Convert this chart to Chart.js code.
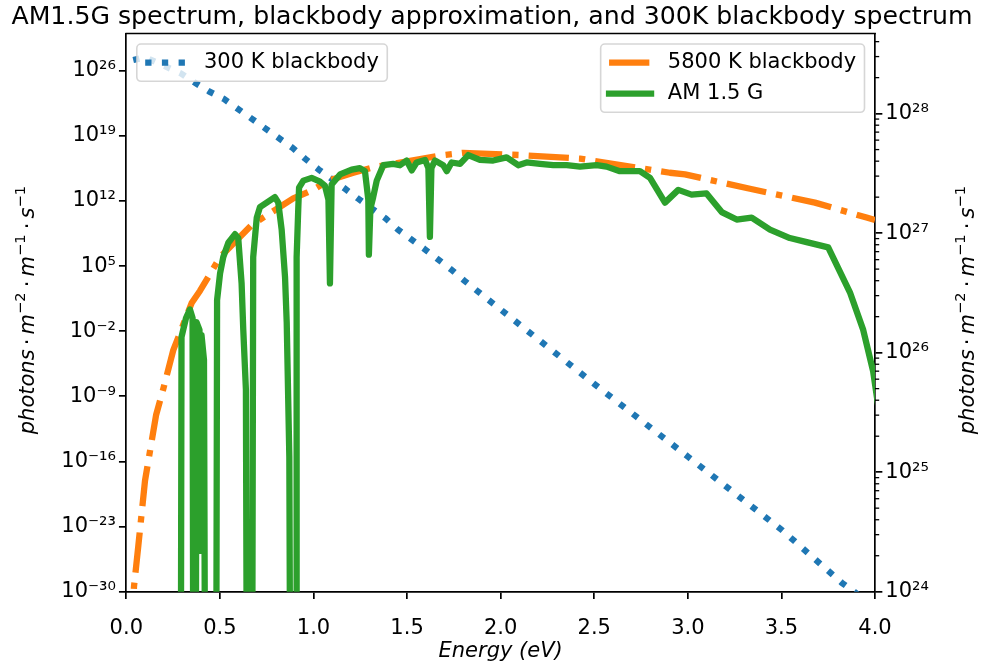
<!DOCTYPE html>
<html>
<head>
<meta charset="utf-8">
<script src="https://cdn.jsdelivr.net/npm/chart.js@4.4.1/dist/chart.umd.min.js"></script>
<style>
html,body{margin:0;padding:0;background:#fff;}
#wrap{width:984px;height:666px;}
</style>
</head>
<body>
<div id="wrap"><canvas id="c" width="984" height="666"></canvas></div>
<script>
// ---------------- data ----------------
const titleText = 'AM1.5G spectrum, blackbody approximation, and 300K blackbody spectrum';
const xTitle = 'Energy (eV)';
const energyTicks = [0, 0.5, 1.0, 1.5, 2.0, 2.5, 3.0, 3.5, 4.0];
const leftTicks = [1e-30, 1e-23, 1e-16, 1e-9, 1e-2, 1e5, 1e12, 1e19, 1e26];
const rightTicks = [1e24, 1e25, 1e26, 1e27, 1e28];
const legendLeftLabels = ['300 K blackbody'];
const legendRightLabels = ['5800 K blackbody', 'AM 1.5 G'];

// 300 K blackbody (left axis)
const bb300E = [0.037, 0.10, 0.292, 0.372, 0.442, 0.522, 0.889, 0.955, 1.029, 1.168, 1.238, 1.386, 1.451, 1.596, 1.735, 1.804, 2.502, 3.002, 3.503, 3.822, 3.889, 4.0];
const bb300 = [1.4e27, 2.8e27, 5.1e25, 4.4e24, 6.0e23, 9.1e22, 5.0e17, 3.5e16, 2.3e15, 2.1e13, 1.8e12, 1.3e10, 8.5e8, 6.2e6, 4.4e4, 2.9e3, 2.0e-8, 3.1e-16, 4.2e-24, 9.3e-30, 1.0e-30, 1.6e-32];

// 5800 K blackbody (right axis)
const bb5800E = [0.03, 0.041, 0.064, 0.100, 0.159, 0.198, 0.251, 0.349, 0.394, 0.501, 0.670, 0.892, 0.997, 1.079, 1.213, 1.319, 1.693, 1.800, 2.103, 2.424, 2.904, 2.985, 3.332, 3.679, 3.955, 4.0];
const bb5800 = [4e23, 1.1e24, 2.4e24, 8.5e24, 3.0e25, 5.0e25, 1.05e26, 2.6e26, 3.3e26, 6.3e26, 1.17e27, 1.95e27, 2.3e27, 2.75e27, 3.2e27, 3.55e27, 4.5e27, 4.7e27, 4.5e27, 4.2e27, 3.2e27, 3.1e27, 2.35e27, 1.8e27, 1.35e27, 1.29e27];

// AM 1.5 G (right axis)
const am15gE = [0.290,0.295,0.319,0.340,0.354,0.359,0.370,0.375,0.391,0.396,0.402,0.415,0.423,0.479,0.485,0.501,0.518,0.545,0.581,0.598,
  0.616,0.625,0.639,0.646,0.671,0.678,0.697,0.714,0.750,0.794,0.812,0.830,0.848,0.857,0.871,0.878,0.907,0.910,0.919,0.923,
  0.946,0.990,1.035,1.061,1.080,1.088,1.097,1.142,1.204,1.248,1.275,1.293,1.296,1.304,1.319,1.338,1.373,1.426,1.462,1.498,
  1.525,1.551,1.596,1.614,1.622,1.630,1.649,1.693,1.712,1.738,1.783,1.827,1.889,1.960,2.032,2.094,2.139,2.210,2.281,2.353,
  2.424,2.513,2.566,2.637,2.744,2.798,2.878,2.949,3.020,3.100,3.181,3.261,3.341,3.439,3.545,3.635,3.750,3.866,3.937,3.990,4.050];
const am15g = [1e22,1.35e26,1.95e26,2.3e26,1.95e26,1e22,1e22,1.8e26,1.55e26,2.2e24,1.4e26,8.7e25,1e22,1e22,2.75e26,4.6e26,6.3e26,8.3e26,9.8e26,9.1e26,
  3.8e26,1.55e26,4.9e25,1e22,1e22,6.3e26,1.35e27,1.65e27,1.8e27,2.0e27,1.8e27,1.07e27,4.3e26,1.8e26,1.35e25,1e22,1e22,6.3e26,1.65e27,2.4e27,
  2.75e27,2.9e27,2.7e27,2.5e27,1.9e27,3.8e26,2.55e27,3.1e27,3.4e27,3.5e27,3.3e27,1.9e27,6.6e26,1.6e27,2.0e27,2.75e27,3.7e27,3.8e27,3.7e27,4.05e27,
  3.35e27,3.9e27,4.1e27,3.5e27,9.3e26,3.5e27,4.05e27,3.7e27,3.3e27,3.9e27,3.8e27,4.5e27,4.1e27,4.05e27,4.3e27,3.7e27,3.9e27,3.8e27,3.7e27,3.7e27,
  3.6e27,3.7e27,3.6e27,3.3e27,3.3e27,2.9e27,1.8e27,2.3e27,2.1e27,2.15e27,1.5e27,1.3e27,1.35e27,1.07e27,9.1e26,8.4e26,7.6e26,3.2e26,1.55e26,7e25,1.6e25];

// ---------------- helpers ----------------
const FONT = '"DejaVu Sans", sans-serif';
const FS = 21;
const SUP = {'-':'\u207B','0':'\u2070','1':'\u00B9','2':'\u00B2','3':'\u00B3','4':'\u2074','5':'\u2075','6':'\u2076','7':'\u2077','8':'\u2078','9':'\u2079'};
function powLabel(v){
  const e = Math.round(Math.log10(v));
  return '10' + String(e).split('').map(c => SUP[c]).join('');
}
function pts(xs, ys){ return xs.map((x, i) => ({x: x, y: ys[i]})); }

const COLORS = {blue:'#1f77b4', orange:'#ff7f0e', green:'#2ca02c'};
const LW = 6.3;
const styles = {
  blue:   {color: COLORS.blue,   dash: [6.3, 10.4], cap: 'butt'},
  orange: {color: COLORS.orange, dash: [40.3, 10.1, 6.3, 10.1], cap: 'butt'},
  green:  {color: COLORS.green,  dash: [], cap: 'square'}
};

function drawMathLabel(ctx, cx, cy){
  const ss = FS * 0.7;
  const parts = [
    ['photons','i'], ['\u00B7','c'], ['m','i'], ['\u22122','s'],
    ['\u00B7','c'], ['m','i'], ['\u22121','s'], ['\u00B7','c'], ['s','i'], ['\u22121','s']
  ];
  const fontOf = k => k === 'i' ? 'italic ' + FS + 'px ' + FONT : (k === 's' ? ss + 'px ' + FONT : FS + 'px ' + FONT);
  const gap = 4.1;
  const widths = parts.map(p => { ctx.font = fontOf(p[1]); let w = ctx.measureText(p[0]).width; if (p[1] === 'c') w += 2 * gap; if (p[1] === 's') w += 1; return w; });
  const total = widths.reduce((a, b) => a + b, 0);
  ctx.save();
  ctx.translate(cx, cy);
  ctx.rotate(-Math.PI / 2);
  ctx.fillStyle = '#000';
  ctx.textBaseline = 'alphabetic';
  ctx.textAlign = 'left';
  let x = -total / 2;
  const base = FS * 0.3;
  parts.forEach((p, i) => {
    ctx.font = fontOf(p[1]);
    let y = base, dx = 0;
    if (p[1] === 's') y = base - FS * 0.42;
    if (p[1] === 'c') dx = gap;
    ctx.fillText(p[0], x + dx, y);
    x += widths[i];
  });
  ctx.restore();
}

function drawLegend(ctx, ca, items, side){
  const pad = 0.4 * FS, hl = 2 * FS, tp = 0.8 * FS;
  ctx.font = FS + 'px ' + FONT;
  const tw = Math.max.apply(null, items.map(it => ctx.measureText(it.label).width));
  const w = pad + hl + tp + tw + pad;
  const rowStep = 31, rowH = 20.5;
  const h = 2 * pad + rowH + (items.length - 1) * rowStep;
  const x0 = side === 'left' ? ca.left + 0.5 * FS : ca.right - 0.5 * FS - w;
  const y0 = ca.top + 0.5 * FS;
  const r = 4.2;
  ctx.save();
  ctx.beginPath();
  ctx.moveTo(x0 + r, y0);
  ctx.arcTo(x0 + w, y0, x0 + w, y0 + h, r);
  ctx.arcTo(x0 + w, y0 + h, x0, y0 + h, r);
  ctx.arcTo(x0, y0 + h, x0, y0, r);
  ctx.arcTo(x0, y0, x0 + w, y0, r);
  ctx.closePath();
  ctx.fillStyle = 'rgba(255,255,255,0.8)';
  ctx.fill();
  ctx.strokeStyle = 'rgba(204,204,204,0.8)';
  ctx.lineWidth = 1.6;
  ctx.stroke();
  items.forEach((it, i) => {
    const cy = y0 + pad + rowH / 2 + i * rowStep;
    const st = styles[it.key];
    ctx.beginPath();
    ctx.setLineDash(st.dash);
    ctx.lineCap = st.cap;
    ctx.strokeStyle = st.color;
    ctx.lineWidth = LW;
    ctx.moveTo(x0 + pad, cy);
    ctx.lineTo(x0 + pad + hl, cy);
    ctx.stroke();
    ctx.setLineDash([]);
    ctx.fillStyle = '#000';
    ctx.font = FS + 'px ' + FONT;
    ctx.textBaseline = 'middle';
    ctx.textAlign = 'left';
    ctx.fillText(it.label, x0 + pad + hl + tp, cy);
  });
  ctx.restore();
}

const mplPlugin = {
  id: 'mpl',
  afterDraw(chart){
    const {ctx, chartArea: ca, scales} = chart;
    ctx.save();
    ctx.strokeStyle = '#000';
    ctx.lineWidth = 1.7;
    ctx.beginPath();
    ctx.moveTo(ca.left - 0.85, ca.top);
    ctx.lineTo(ca.right + 0.85, ca.top);
    ctx.stroke();
    // minor ticks on right log axis
    const y2 = scales.y2;
    ctx.lineWidth = 1.3;
    for (let e = 24; e <= 28; e++) {
      for (let k = 2; k <= 9; k++) {
        const v = k * Math.pow(10, e);
        if (v > y2.max) continue;
        const py = y2.getPixelForValue(v);
        ctx.beginPath();
        ctx.moveTo(ca.right, py);
        ctx.lineTo(ca.right + 4.2, py);
        ctx.stroke();
      }
    }
    ctx.restore();
    const cy = (ca.top + ca.bottom) / 2 - 3;
    drawMathLabel(ctx, 28, cy);
    drawMathLabel(ctx, 968, cy);
    drawLegend(ctx, ca, [{key: 'blue', label: legendLeftLabels[0]}], 'left');
    drawLegend(ctx, ca, [{key: 'orange', label: legendRightLabels[0]}, {key: 'green', label: legendRightLabels[1]}], 'right');
  }
};

Chart.defaults.font.family = FONT;
Chart.defaults.color = '#000';

const tickFont = {size: FS, family: FONT};
const gridOpts = {drawOnChartArea: false, drawTicks: true, tickLength: 7.35, color: '#000', lineWidth: 1.7};
const borderOpts = {display: true, color: '#000', width: 1.7};

new Chart(document.getElementById('c'), {
  type: 'line',
  data: {
    datasets: [
      {label: legendLeftLabels[0], data: pts(bb300E, bb300), yAxisID: 'y', borderColor: COLORS.blue,
       borderWidth: LW, borderDash: styles.blue.dash, borderCapStyle: 'butt', pointRadius: 0, order: 3, clip: 0, tension: 0},
      {label: legendRightLabels[0], data: pts(bb5800E, bb5800), yAxisID: 'y2', borderColor: COLORS.orange,
       borderWidth: LW, borderDash: styles.orange.dash, borderCapStyle: 'butt', borderJoinStyle: 'round', pointRadius: 0, order: 2, clip: 0, tension: 0},
      {label: legendRightLabels[1], data: pts(am15gE, am15g), yAxisID: 'y2', borderColor: COLORS.green,
       borderWidth: LW, borderCapStyle: 'square', borderJoinStyle: 'round', pointRadius: 0, order: 1, clip: 0, tension: 0}
    ]
  },
  options: {
    responsive: false,
    animation: false,
    devicePixelRatio: 1,
    layout: {padding: 0},
    plugins: {
      legend: {display: false},
      tooltip: {enabled: false},
      title: {display: true, text: titleText, color: '#000', font: {size: 25.2, weight: 'normal', family: FONT, lineHeight: 1.2}, padding: {top: 2.4, bottom: 0.86}}
    },
    scales: {
      x: {
        type: 'linear', min: 0, max: 4, z: 1,
        afterBuildTicks: s => { s.ticks = energyTicks.map(v => ({value: v})); },
        afterFit: s => { s.height = 74.3; },
        ticks: {font: tickFont, color: '#000', padding: 17, maxRotation: 0, autoSkip: false, callback: v => Number(v).toFixed(1)},
        grid: gridOpts, border: borderOpts,
        title: {display: true, text: xTitle, color: '#000', font: {size: FS, style: 'italic', family: FONT}, padding: {top: 0, bottom: 2}}
      },
      y: {
        type: 'logarithmic', position: 'left', min: 1e-30, max: 1e30, z: 1,
        afterBuildTicks: s => { s.ticks = leftTicks.map(v => ({value: v})); },
        afterFit: s => { s.width = 126.3; },
        ticks: {font: tickFont, color: '#000', padding: 3, autoSkip: false, callback: v => powLabel(v)},
        grid: gridOpts, border: borderOpts
      },
      y2: {
        type: 'logarithmic', position: 'right', min: 1e24, max: 4.68e28, z: 1,
        afterBuildTicks: s => { s.ticks = rightTicks.map(v => ({value: v})); },
        afterFit: s => { s.width = 109; },
        ticks: {font: tickFont, color: '#000', padding: 3, autoSkip: false, callback: v => powLabel(v)},
        grid: gridOpts, border: borderOpts
      }
    }
  },
  plugins: [mplPlugin]
});
</script>
</body>
</html>
